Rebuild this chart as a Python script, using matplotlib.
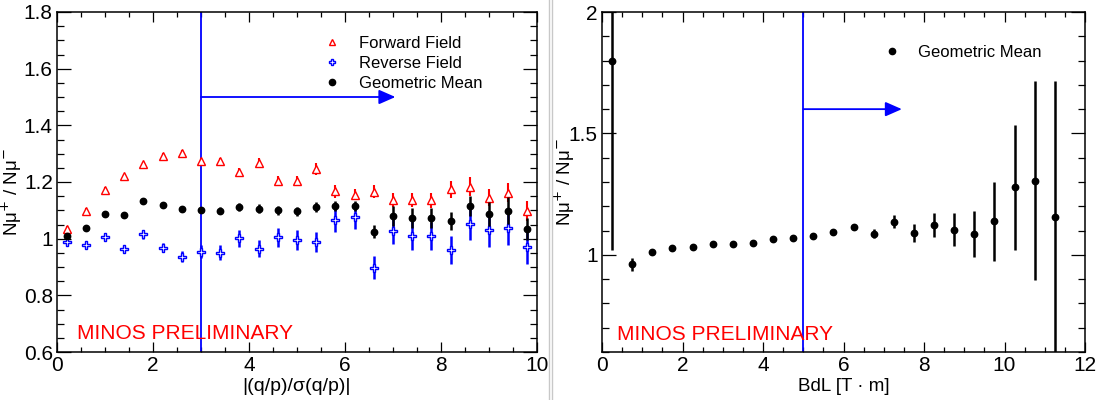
import matplotlib
matplotlib.use('Agg')
import matplotlib.pyplot as plt
from matplotlib.lines import Line2D
from matplotlib.ticker import MultipleLocator, FuncFormatter

plt.rcParams['font.family'] = ['Liberation Sans', 'DejaVu Sans']

# left panel: ratio vs |(q/p)/sigma(q/p)|
sig_x = [0.2, 0.6, 1.0, 1.4, 1.8, 2.2, 2.6, 3.0, 3.4, 3.8, 4.2, 4.6, 5.0,
         5.4, 5.8, 6.2, 6.6, 7.0, 7.4, 7.8, 8.2, 8.6, 9.0, 9.4, 9.8]
fwd_y = [1.035, 1.099, 1.173, 1.221, 1.262, 1.292, 1.302, 1.273, 1.274, 1.235, 1.268, 1.205, 1.205,
         1.246, 1.167, 1.155, 1.166, 1.136, 1.136, 1.136, 1.174, 1.184, 1.145, 1.162, 1.098]
fwd_err = [0.008, 0.008, 0.008, 0.008, 0.009, 0.009, 0.010, 0.012, 0.012, 0.014, 0.018, 0.016, 0.016,
           0.020, 0.023, 0.020, 0.023, 0.024, 0.024, 0.026, 0.030, 0.033, 0.030, 0.033, 0.035]
rev_y = [0.987, 0.976, 1.007, 0.962, 1.016, 0.968, 0.936, 0.954, 0.951, 1.001, 0.965, 1.005, 0.995,
         0.987, 1.065, 1.075, 0.898, 1.028, 1.011, 1.009, 0.960, 1.051, 1.031, 1.038, 0.972]
rev_err = [0.010, 0.010, 0.012, 0.012, 0.016, 0.016, 0.020, 0.022, 0.025, 0.030, 0.030, 0.033, 0.035,
           0.035, 0.040, 0.040, 0.040, 0.047, 0.050, 0.050, 0.050, 0.057, 0.060, 0.060, 0.060]
mean_y = [1.011, 1.036, 1.088, 1.085, 1.132, 1.118, 1.104, 1.102, 1.099, 1.112, 1.106, 1.101, 1.096,
          1.111, 1.115, 1.115, 1.025, 1.081, 1.073, 1.073, 1.062, 1.115, 1.087, 1.099, 1.034]
mean_err = [0.006, 0.006, 0.006, 0.006, 0.007, 0.008, 0.008, 0.010, 0.012, 0.014, 0.015, 0.016, 0.016,
            0.017, 0.018, 0.018, 0.024, 0.035, 0.035, 0.035, 0.033, 0.035, 0.044, 0.047, 0.040]

# right panel: ratio vs BdL
bdl_x = [0.25, 0.75, 1.25, 1.75, 2.25, 2.75, 3.25, 3.75, 4.25, 4.75, 5.25, 5.75,
         6.25, 6.75, 7.25, 7.75, 8.25, 8.75, 9.25, 9.75, 10.25, 10.75, 11.25]
bdl_y = [1.80, 0.961, 1.010, 1.030, 1.032, 1.043, 1.043, 1.050, 1.065, 1.068, 1.078, 1.095,
         1.116, 1.087, 1.137, 1.090, 1.124, 1.104, 1.086, 1.139, 1.279, 1.305, 1.155]
bdl_err = [0.78, 0.027, 0.011, 0.007, 0.006, 0.006, 0.006, 0.006, 0.006, 0.007, 0.008, 0.009,
           0.011, 0.019, 0.027, 0.036, 0.050, 0.069, 0.095, 0.163, 0.257, 0.41, 0.56]

sig_cut = 3
bdl_cut = 5

fig = plt.figure(figsize=(10.97, 4.0), dpi=100)
axL = fig.add_axes([57/1097, 48/400, 480/1097, 340/400])
axR = fig.add_axes([602/1097, 48/400, 483/1097, 340/400])

fmt = FuncFormatter(lambda v, p: '%g' % round(v, 3))
ylab = 'Nμ$^{+}$ / Nμ$^{-}$'

def style(ax):
    for s in ax.spines.values():
        s.set_linewidth(1.1)
    ax.tick_params(which='both', direction='in', top=True, right=True, labelsize=15, width=0.9)
    ax.tick_params(axis='x', which='major', length=7.3, pad=3)
    ax.tick_params(axis='x', which='minor', length=3.7)
    ax.tick_params(axis='y', which='major', length=10.4, pad=3)
    ax.tick_params(axis='y', which='minor', length=5.2)
    ax.xaxis.set_major_formatter(fmt)
    ax.yaxis.set_major_formatter(fmt)

# ---- left
axL.errorbar(sig_x, fwd_y, yerr=fwd_err, fmt='^', color='red', mfc='white', mec='red',
             ms=5.5, mew=1, elinewidth=1.5, capsize=0, zorder=3)
axL.errorbar(sig_x, rev_y, yerr=rev_err, fmt='P', color='blue', mfc='white', mec='blue',
             ms=5.5, mew=1, elinewidth=1.8, capsize=0, zorder=3)
axL.errorbar(sig_x, mean_y, yerr=mean_err, fmt='o', color='black', ms=4.6,
             elinewidth=1.8, capsize=0, zorder=4)
axL.axvline(sig_cut, color='blue', lw=1.3, zorder=2)
axL.annotate('', xy=(7.05, 1.5), xytext=(sig_cut, 1.5),
             arrowprops=dict(arrowstyle='-|>,head_length=0.5,head_width=0.22',
                             color='blue', lw=1.3, mutation_scale=20, shrinkA=0, shrinkB=0))
axL.set_xlim(0, 10)
axL.set_ylim(0.6, 1.8)
axL.xaxis.set_major_locator(MultipleLocator(2))
axL.xaxis.set_minor_locator(MultipleLocator(0.5))
axL.yaxis.set_major_locator(MultipleLocator(0.2))
axL.yaxis.set_minor_locator(MultipleLocator(0.05))
style(axL)
axL.set_xlabel('|(q/p)/σ(q/p)|', fontsize=14, labelpad=2)
axL.set_ylabel(ylab, fontsize=13.5)
axL.yaxis.set_label_coords(-0.068, 0.47)
axL.text(0.42, 0.645, 'MINOS PRELIMINARY', color='red', fontsize=15)

hL = [Line2D([], [], ls='none', marker='^', mfc='white', mec='red', ms=5),
      Line2D([], [], ls='none', marker='P', mfc='white', mec='blue', ms=5),
      Line2D([], [], ls='none', marker='o', color='black', ms=4.5)]
axL.legend(hL, ['Forward Field', 'Reverse Field', 'Geometric Mean'], loc='upper left',
           bbox_to_anchor=(0.556, 0.93), frameon=False, fontsize=12, borderaxespad=0,
           borderpad=0, handlelength=1, handletextpad=1.1, labelspacing=0.3)

# ---- right
axR.errorbar(bdl_x, bdl_y, yerr=bdl_err, fmt='o', color='black', ms=4.6,
             elinewidth=1.8, capsize=0, zorder=4)
axR.axvline(bdl_cut, color='blue', lw=1.3, zorder=2)
axR.annotate('', xy=(7.45, 1.6), xytext=(bdl_cut, 1.6),
             arrowprops=dict(arrowstyle='-|>,head_length=0.5,head_width=0.22',
                             color='blue', lw=1.3, mutation_scale=20, shrinkA=0, shrinkB=0))
axR.set_xlim(0, 12)
axR.set_ylim(0.6, 2.0)
axR.xaxis.set_major_locator(MultipleLocator(2))
axR.xaxis.set_minor_locator(MultipleLocator(0.5))
axR.yaxis.set_major_locator(MultipleLocator(0.5))
axR.yaxis.set_minor_locator(MultipleLocator(0.1))
style(axR)
axR.set_xlabel('BdL [T · m]', fontsize=13.5, labelpad=2)
axR.set_ylabel(ylab, fontsize=13.5)
axR.yaxis.set_label_coords(-0.052, 0.5)
axR.text(0.37, 0.65, 'MINOS PRELIMINARY', color='red', fontsize=15)

hR = [Line2D([], [], ls='none', marker='o', color='black', ms=4.5)]
axR.legend(hR, ['Geometric Mean'], loc='upper left', bbox_to_anchor=(0.584, 0.903),
           frameon=False, fontsize=12, borderaxespad=0, borderpad=0,
           handlelength=1, handletextpad=1.05)

# separator between the two canvases
for xs in (549, 552):
    fig.add_artist(Line2D([xs/1097, xs/1097], [0, 1], color='#c8c8c8', lw=1,
                          transform=fig.transFigure))

fig.savefig('out.png', dpi=100)
